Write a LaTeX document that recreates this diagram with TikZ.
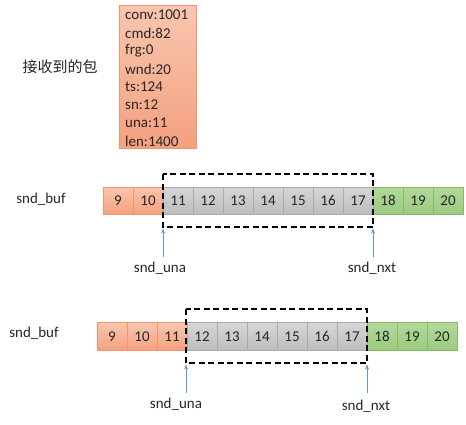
\documentclass[tikz,border=0pt]{standalone}
\usepackage{fontspec}
\setmainfont{Carlito}
\newfontfamily\cjk{Noto Sans CJK SC}
\usetikzlibrary{arrows.meta}
\definecolor{orTop}{HTML}{F9C6AF}
\definecolor{orBot}{HTML}{F4A07F}
\definecolor{orEdge}{HTML}{F0956E}
\definecolor{grTop}{HTML}{D6D6D6}
\definecolor{grBot}{HTML}{BDBDBD}
\definecolor{grEdge}{HTML}{A9A9A9}
\definecolor{gnTop}{HTML}{B2D99A}
\definecolor{gnBot}{HTML}{9BCB7E}
\definecolor{gnEdge}{HTML}{86BA68}
\definecolor{arr}{HTML}{5B9BD5}
\definecolor{txt}{HTML}{262626}
\tikzset{
  cell/.style={draw, line width=0.6pt, minimum width=30pt, minimum height=27pt, inner sep=0pt, font=\fontsize{15}{15}\selectfont, text=txt},
  orcell/.style={cell, draw=orEdge, top color=orTop, bottom color=orBot},
  grcell/.style={cell, draw=grEdge, top color=grTop, bottom color=grBot},
  gncell/.style={cell, draw=gnEdge, top color=gnTop, bottom color=gnBot},
  win/.style={draw=black, line width=1.6pt, dash pattern=on 6pt off 3.5pt},
  lbl/.style={font=\fontsize{15}{15}\selectfont, text=txt, inner sep=0pt},
  ptr/.style={draw=arr, line width=0.6pt, -{Stealth[length=5pt,width=4pt]}},
}
\begin{document}
\begin{tikzpicture}[x=1pt,y=-1pt]
\useasboundingbox (0,0) rectangle (466,424);
% packet
\node[draw=orEdge, line width=0.6pt, top color=orTop, bottom color=orBot, minimum width=77pt, minimum height=143pt, inner sep=0pt] (pkt) at (157.5,76.5) {};
\foreach \t [count=\i] in {conv:1001,cmd:82,frg:0,wnd:20,ts:124,sn:12,una:11,len:1400}
  \node[lbl, anchor=west] (f\i) at (125,{15+(\i-1)*18}) {\t};
\node[lbl, font=\cjk\fontsize{15}{15}\selectfont] (recv) at (60,67) {接收到的包};
% row 1
\node[lbl] (buf1) at (41,199) {snd\_buf};
\foreach \n [count=\i] in {9,...,20}{
  \ifnum\n<11 \def\st{orcell}\else\ifnum\n<18 \def\st{grcell}\else\def\st{gncell}\fi\fi
  \node[\st] (a\n) at ({118+(\i-1)*30},200.5) {\n};
}
\draw[win] (163,174) rectangle (373,227);
\node[lbl] (una1) at (160,268) {snd\_una};
\node[lbl] (nxt1) at (372,268) {snd\_nxt};
\coordinate (una1b) at (163,257);
\coordinate (una1t) at (163,228.5);
\coordinate (nxt1b) at (373,257);
\coordinate (nxt1t) at (373,228.5);
\draw[ptr] (una1b) -- (una1t);
\draw[ptr] (nxt1b) -- (nxt1t);
% row 2
\node[lbl] (buf2) at (34,333) {snd\_buf};
\foreach \n [count=\i] in {9,...,20}{
  \ifnum\n<12 \def\st{orcell}\else\ifnum\n<18 \def\st{grcell}\else\def\st{gncell}\fi\fi
  \node[\st, minimum height=28pt] (b\n) at ({112+(\i-1)*30},336.5) {\n};
}
\draw[win] (186,309) rectangle (367,363);
\node[lbl] (una2) at (176,404) {snd\_una};
\node[lbl] (nxt2) at (366,406) {snd\_nxt};
\coordinate (una2b) at (186,393);
\coordinate (una2t) at (186,364.5);
\coordinate (nxt2b) at (367,393);
\coordinate (nxt2t) at (367,364.5);
\draw[ptr] (una2b) -- (una2t);
\draw[ptr] (nxt2b) -- (nxt2t);
\end{tikzpicture}
\end{document}
